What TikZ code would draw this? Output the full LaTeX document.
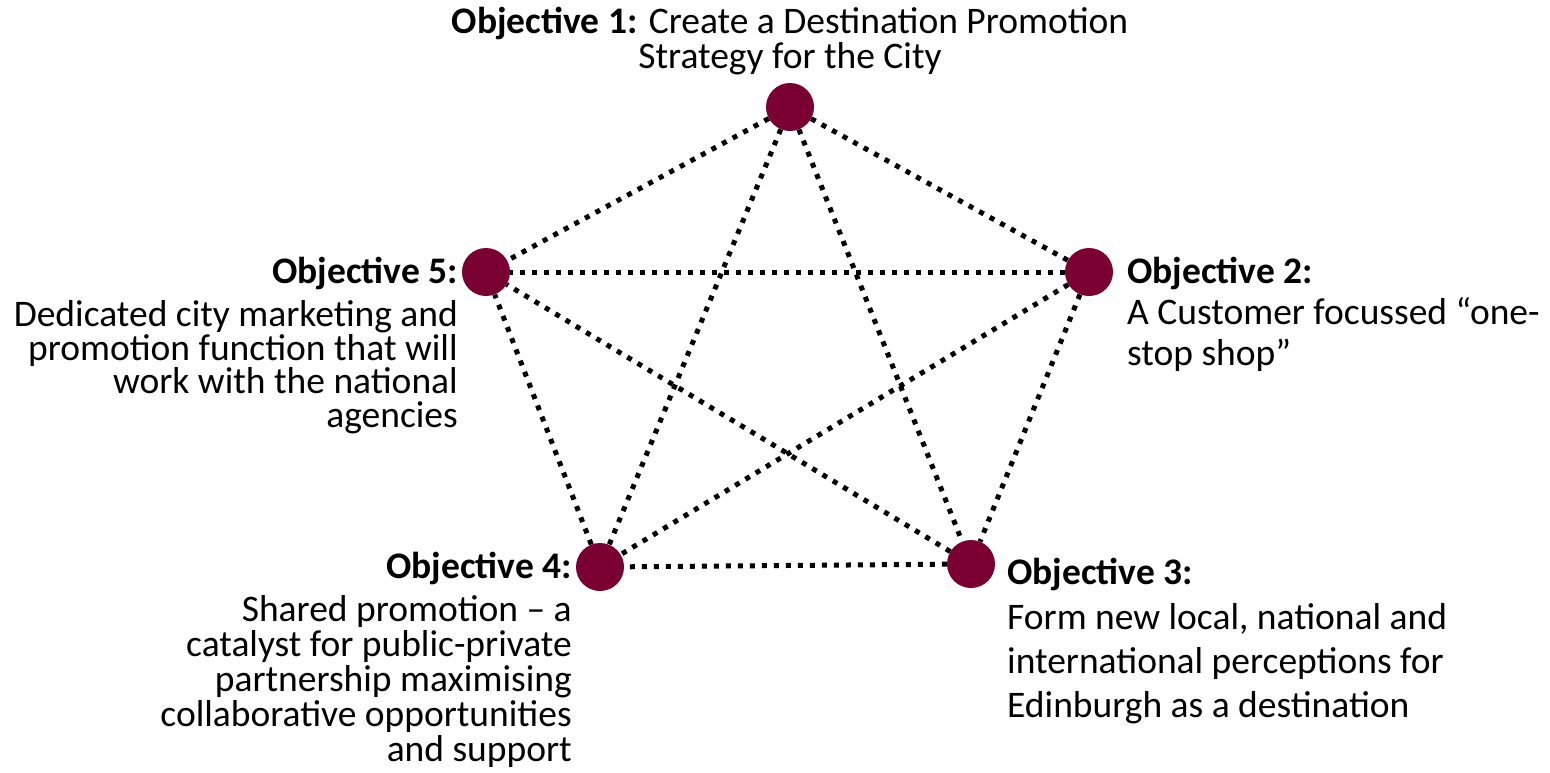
\documentclass[tikz,border=0pt]{standalone}
\usepackage{fontspec}
\setmainfont{Carlito}
\usetikzlibrary{positioning}
\definecolor{objred}{RGB}{122,0,50}

\begin{document}
\begin{tikzpicture}[x=1pt,y=-1pt,
  every node/.style={inner sep=0pt,font=\fontsize{37.5}{35}\selectfont},
  objdot/.style={circle,fill=objred,minimum size=48pt},
  link/.style={line width=5pt,dash pattern=on 5pt off 7pt}]
  \useasboundingbox (0,0) rectangle (1550,772);

  % the five objectives
  \node[objdot] (O1) at (790,107) {};
  \node[objdot] (O2) at (1089,272) {};
  \node[objdot] (O3) at (971,564) {};
  \node[objdot] (O4) at (600,567) {};
  \node[objdot] (O5) at (486,272) {};

  % every objective is linked to every other
  \path[link] (O1) edge (O2) edge (O3) edge (O4) edge (O5)
              (O2) edge (O3) edge (O4) edge (O5)
              (O3) edge (O4) edge (O5)
              (O4) edge (O5);

  % labels (multi-line nodes sit on the baseline of their last line)
  \node[anchor=base,align=center] (T1) at (790,68)
    {\textbf{Objective 1:} Create a Destination Promotion\\Strategy for the City};

  \node[anchor=base west] (T2) at (1127,283) {\textbf{Objective 2:}};
  \node[anchor=base west,align=left,font=\fontsize{37.5}{41}\selectfont] (B2) at (1127,365)
    {A Customer focussed “one-\\stop shop”};

  \node[anchor=base west] (T3) at (1007,584) {\textbf{Objective 3:}};
  \node[anchor=base west,align=left,font=\fontsize{37.5}{44}\selectfont] (B3) at (1007,717)
    {Form new local, national and\\international perceptions for\\Edinburgh as a destination};

  \node[anchor=base east] (T4) at (572,578) {\textbf{Objective 4:}};
  \node[anchor=base east,align=right] (B4) at (572,761)
    {Shared promotion – a\\catalyst for public-private\\partnership maximising\\collaborative opportunities\\and support};

  \node[anchor=base east] (T5) at (458,283) {\textbf{Objective 5:}};
  \node[anchor=base east,align=right,font=\fontsize{37.5}{33.5}\selectfont] (B5) at (458,427)
    {Dedicated city marketing and\\promotion function that will\\work with the national\\agencies};
\end{tikzpicture}
\end{document}
